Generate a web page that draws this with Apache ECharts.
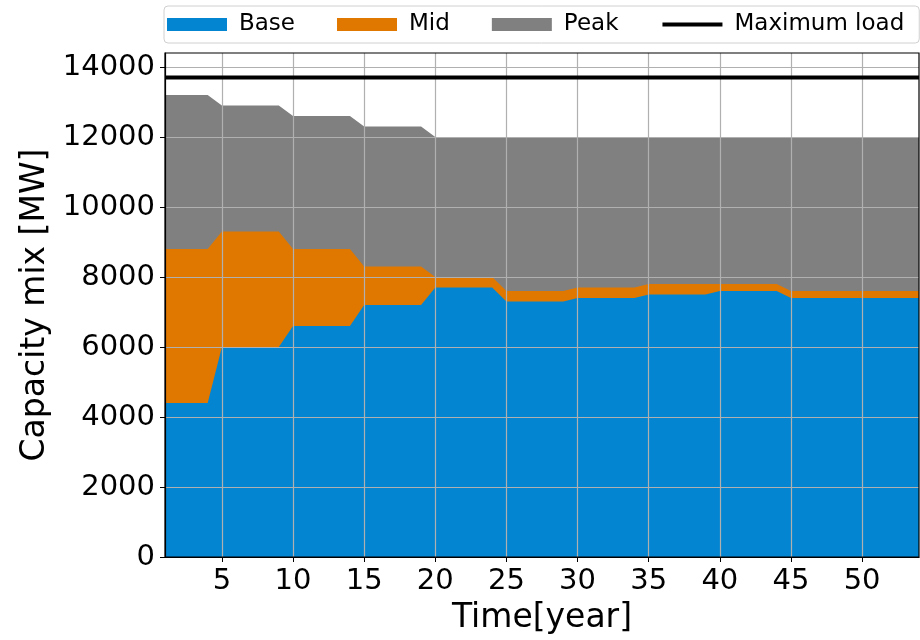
<!DOCTYPE html>
<html>
<head>
<meta charset="utf-8">
<script src="https://cdn.jsdelivr.net/npm/echarts@6/dist/echarts.min.js"></script>
<style>
  html, body { margin: 0; padding: 0; background: #fff; }
  #chart { width: 920px; height: 640px; }
</style>
</head>
<body>
<div id="chart"></div>
<script>
// Simulation years
const years = [1,2,3,4,5,6,7,8,9,10,11,12,13,14,15,16,17,18,19,20,21,22,23,24,25,26,27,
  28,29,30,31,32,33,34,35,36,37,38,39,40,41,42,43,44,45,46,47,48,49,50,51,52,53,54];

// Installed capacity per technology [MW]
const baseMW = [4400,4400,4400,4400, 6000,6000,6000,6000,6000, 6600,6600,6600,6600,6600,
  7200,7200,7200,7200,7200, 7700,7700,7700,7700,7700, 7300,7300,7300,7300,7300,
  7400,7400,7400,7400,7400, 7500,7500,7500,7500,7500, 7600,7600,7600,7600,7600,
  7400,7400,7400,7400,7400,7400,7400,7400,7400,7400];
const midMW = [4400,4400,4400,4400, 3300,3300,3300,3300,3300, 2200,2200,2200,2200,2200,
  1100,1100,1100,1100,1100, 300,300,300,300,300, 300,300,300,300,300,
  300,300,300,300,300, 300,300,300,300,300, 200,200,200,200,200,
  200,200,200,200,200,200,200,200,200,200];
const peakMW = [4400,4400,4400,4400, 3600,3600,3600,3600,3600, 3800,3800,3800,3800,3800,
  4000,4000,4000,4000,4000, 4000,4000,4000,4000,4000, 4400,4400,4400,4400,4400,
  4300,4300,4300,4300,4300, 4200,4200,4200,4200,4200, 4200,4200,4200,4200,4200,
  4400,4400,4400,4400,4400,4400,4400,4400,4400,4400];
const maxLoadMW = 13700;

// Axis ticks
const xTicks = [5,10,15,20,25,30,35,40,45,50];
const yTicks = [0,2000,4000,6000,8000,10000,12000,14000];

const FONT = 'DejaVu Sans';

// Cumulative layer tops (Base, Base+Mid, Base+Mid+Peak)
const baseTop = baseMW.slice();
const midTop = baseMW.map((v, i) => v + midMW[i]);
const peakTop = midTop.map((v, i) => v + peakMW[i]);
const pair = (vals) => years.map((y, i) => [y, vals[i]]);

const areaSeries = (name, tops, color) => ({
  name: name,
  type: 'line',
  data: pair(tops),
  showSymbol: false,
  symbol: 'none',
  lineStyle: { width: 0 },
  itemStyle: { color: color },
  areaStyle: { color: color, opacity: 1, origin: 'start' },
  z: 2
});

const chart = echarts.init(document.getElementById('chart'), null, { renderer: 'canvas' });
chart.setOption({
  animation: false,
  backgroundColor: '#fff',
  textStyle: { fontFamily: FONT },
  grid: {
    left: 165, right: 1, top: 53, bottom: 83,
    show: true, borderColor: '#000', borderWidth: 1.2, backgroundColor: 'transparent', z: 5
  },
  legend: {
    left: 164, top: 6, width: 800,
    padding: [7, 15, 7, 3],
    itemGap: 42, itemWidth: 60, itemHeight: 13,
    backgroundColor: 'rgba(255,255,255,0.8)',
    borderColor: '#d0d0d0', borderWidth: 1, borderRadius: 4,
    textStyle: { fontFamily: FONT, fontSize: 23, color: '#000', padding: [0, 0, 0, 7] },
    data: [
      { name: 'Base', icon: 'rect' },
      { name: 'Mid', icon: 'rect' },
      { name: 'Peak', icon: 'rect' },
      {
        name: 'Maximum load',
        itemStyle: { color: 'rgba(0,0,0,0)', borderWidth: 0, opacity: 0 },
        lineStyle: { color: '#000', width: 4 }
      }
    ]
  },
  xAxis: {
    type: 'value', min: 1, max: 54, z: 3,
    name: 'Time[year]', nameLocation: 'middle', nameGap: 45,
    nameTextStyle: { fontFamily: FONT, fontSize: 33, color: '#000' },
    axisLine: { show: true, onZero: false, lineStyle: { color: '#000', width: 1.2 } },
    axisTick: { show: true, length: 5, customValues: xTicks, lineStyle: { color: '#000' } },
    axisLabel: { customValues: xTicks, fontFamily: FONT, fontSize: 29, color: '#000', margin: 10 },
    splitLine: { show: true, lineStyle: { color: '#b0b0b0', width: 1.2 } }
  },
  yAxis: {
    type: 'value', min: 0, max: 14400, z: 3,
    name: 'Capacity mix [MW]', nameLocation: 'middle', nameGap: 110,
    nameTextStyle: { fontFamily: FONT, fontSize: 33, color: '#000' },
    axisLine: { show: true, lineStyle: { color: '#000', width: 1.2 } },
    axisTick: { show: true, length: 5, customValues: yTicks, lineStyle: { color: '#000' } },
    axisLabel: {
      customValues: yTicks, fontFamily: FONT, fontSize: 29, color: '#000', margin: 10,
      formatter: (v) => String(v)
    },
    splitLine: { show: true, lineStyle: { color: '#b0b0b0', width: 1.2 } }
  },
  series: [
    areaSeries('Peak', peakTop, '#808080'),
    areaSeries('Mid', midTop, '#e07800'),
    areaSeries('Base', baseTop, '#0485d1'),
    {
      name: 'Maximum load',
      type: 'line',
      data: [[years[0], maxLoadMW], [years[years.length - 1], maxLoadMW]],
      showSymbol: false,
      symbol: 'none',
      itemStyle: { color: '#000' },
      lineStyle: { color: '#000', width: 4 },
      z: 4
    }
  ]
});
</script>
</body>
</html>
